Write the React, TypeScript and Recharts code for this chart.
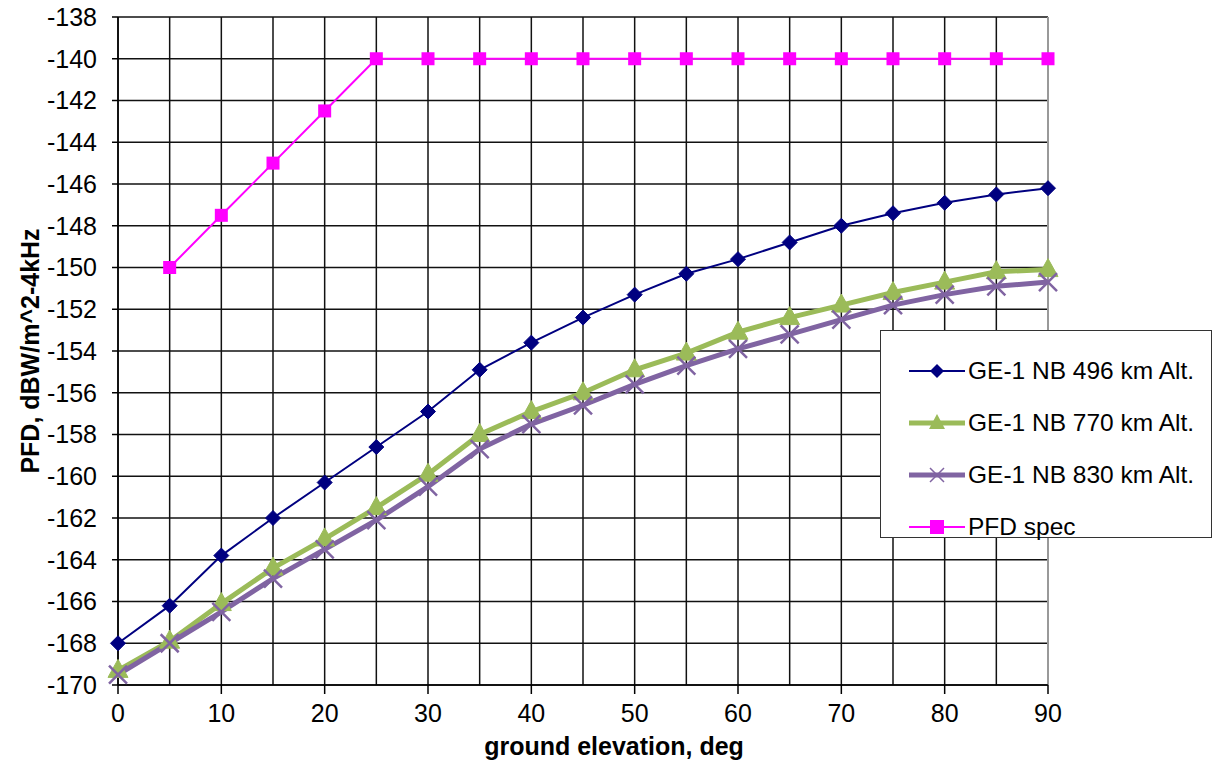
import React from 'react';
import { LineChart, Line, XAxis, YAxis, CartesianGrid, ReferenceLine, Label } from 'recharts';

const elevation = [0, 5, 10, 15, 20, 25, 30, 35, 40, 45, 50, 55, 60, 65, 70, 75, 80, 85, 90];

const nb496 = [-168.0, -166.2, -163.8, -162.0, -160.3, -158.6, -156.9, -154.9, -153.6, -152.4, -151.3, -150.3, -149.6, -148.8, -148.0, -147.4, -146.9, -146.5, -146.2];
const nb770 = [-169.3, -167.9, -166.1, -164.4, -163.0, -161.5, -159.9, -158.0, -156.9, -156.0, -154.9, -154.1, -153.1, -152.4, -151.8, -151.2, -150.7, -150.2, -150.1];
const nb830 = [-169.5, -168.0, -166.5, -164.9, -163.5, -162.1, -160.5, -158.7, -157.5, -156.6, -155.6, -154.7, -153.9, -153.2, -152.5, -151.8, -151.3, -150.9, -150.7];
const pfdSpec = [null, -150, -147.5, -145, -142.5, -140, -140, -140, -140, -140, -140, -140, -140, -140, -140, -140, -140, -140, -140];

const xTicks = [0, 10, 20, 30, 40, 50, 60, 70, 80, 90];
const xMinorGrid = [5, 15, 25, 35, 45, 55, 65, 75, 85];
const yTicks = [-170, -168, -166, -164, -162, -160, -158, -156, -154, -152, -150, -148, -146, -144, -142, -140, -138];

const seriesNames = ['GE-1 NB 496 km Alt.', 'GE-1 NB 770 km Alt.', 'GE-1 NB 830 km Alt.', 'PFD spec'];

const data = elevation.map((e, i) => ({
  elev: e,
  nb496: nb496[i],
  nb770: nb770[i],
  nb830: nb830[i],
  pfd: pfdSpec[i],
}));

const BLUE = '#000080';
const GREEN = '#9BBB59';
const PURPLE = '#8064A2';
const MAGENTA = '#FF00FF';
const FONT = '"Liberation Sans", Arial, sans-serif';
const GRID = '#111';

const Diamond = (props: any) => {
  const { cx, cy } = props;
  if (cx == null || cy == null) return null;
  const r = 7.5;
  return <path d={`M${cx},${cy - r}L${cx + r},${cy}L${cx},${cy + r}L${cx - r},${cy}Z`} fill={BLUE} stroke={BLUE} />;
};

const Triangle = (props: any) => {
  const { cx, cy } = props;
  if (cx == null || cy == null) return null;
  return <path d={`M${cx},${cy - 11}L${cx + 10},${cy + 7}L${cx - 10},${cy + 7}Z`} fill={GREEN} stroke={GREEN} />;
};

const Cross = (props: any) => {
  const { cx, cy } = props;
  if (cx == null || cy == null) return null;
  const r = 9;
  return (
    <path
      d={`M${cx - r},${cy - r}L${cx + r},${cy + r}M${cx - r},${cy + r}L${cx + r},${cy - r}`}
      stroke={PURPLE}
      strokeWidth={2.5}
      fill="none"
    />
  );
};

const Square = (props: any) => {
  const { cx, cy } = props;
  if (cx == null || cy == null) return null;
  const r = 6.5;
  return <rect x={cx - r} y={cy - r} width={2 * r} height={2 * r} fill={MAGENTA} />;
};

const legendIcons = [
  (
    <svg width={56} height={20} key="a">
      <line x1={0} y1={10} x2={56} y2={10} stroke={BLUE} strokeWidth={2} />
      <path d="M28,3L35,10L28,17L21,10Z" fill={BLUE} />
    </svg>
  ),
  (
    <svg width={56} height={20} key="b">
      <line x1={0} y1={10} x2={56} y2={10} stroke={GREEN} strokeWidth={5} strokeLinecap="round" />
      <path d="M28,1L36,16L20,16Z" fill={GREEN} />
    </svg>
  ),
  (
    <svg width={56} height={20} key="c">
      <line x1={0} y1={10} x2={56} y2={10} stroke={PURPLE} strokeWidth={5} strokeLinecap="round" />
      <path d="M21,3L35,17M21,17L35,3" stroke={PURPLE} strokeWidth={1.5} />
    </svg>
  ),
  (
    <svg width={56} height={20} key="d">
      <line x1={0} y1={10} x2={56} y2={10} stroke={MAGENTA} strokeWidth={2} />
      <rect x={21} y={3} width={14} height={14} fill={MAGENTA} />
    </svg>
  ),
];

// legend drawn as a plain box over the plot, so it doesn't eat chart space
const LegendBox = () => (
  <div
    style={{
      position: 'absolute',
      left: 880,
      top: 330,
      border: '1.5px solid #333',
      background: '#fff',
      width: 332,
      height: 208,
      boxSizing: 'border-box',
      paddingTop: 14,
      paddingLeft: 28,
      fontFamily: FONT,
      fontSize: 24.5,
      color: '#000',
    }}
  >
    {seriesNames.map((name, i) => (
      <div key={name} style={{ display: 'flex', alignItems: 'center', height: 52, whiteSpace: 'nowrap' }}>
        {legendIcons[i]}
        <span style={{ marginLeft: 3 }}>{name}</span>
      </div>
    ))}
  </div>
);

export default function App() {
  return (
    <div style={{ position: 'absolute', left: 0, top: 0, width: 1214, height: 766, background: '#fff' }}>
      <LineChart width={1214} height={766} data={data} margin={{ top: 17, right: 166, bottom: 0, left: 0 }}>
        <CartesianGrid stroke={GRID} strokeWidth={1.5} />
        {xMinorGrid.map((x) => (
          <ReferenceLine key={x} x={x} stroke={GRID} strokeWidth={1.5} />
        ))}
        <XAxis
          dataKey="elev"
          type="number"
          domain={[0, 90]}
          ticks={xTicks}
          height={81}
          tickSize={9}
          tickMargin={10}
          stroke="#000"
          strokeWidth={1.5}
          tick={{ fill: '#000', fontSize: 25, fontFamily: FONT }}
        >
          <Label
            value="ground elevation, deg"
            position="insideBottom"
            offset={11}
            dx={31}
            style={{ fontSize: 25, fontWeight: 'bold', fontFamily: FONT, fill: '#000' }}
          />
        </XAxis>
        <YAxis
          type="number"
          domain={[-170, -138]}
          ticks={yTicks}
          interval={0}
          width={118}
          tickSize={6}
          tickMargin={15}
          stroke="#000"
          strokeWidth={1.5}
          tick={{ fill: '#000', fontSize: 25, fontFamily: FONT }}
        >
          <Label
            value="PFD, dBW/m^2-4kHz"
            angle={-90}
            position="insideLeft"
            offset={30}
            style={{ textAnchor: 'middle', fontSize: 25, fontWeight: 'bold', fontFamily: FONT, fill: '#000' }}
          />
        </YAxis>
        <ReferenceLine x={90} stroke="#999" strokeWidth={2} />
        <Line
          dataKey="nb496"
          name={seriesNames[0]}
          stroke={BLUE}
          strokeWidth={2}
          dot={<Diamond />}
          activeDot={false}
          isAnimationActive={false}
        />
        <Line
          dataKey="nb770"
          name={seriesNames[1]}
          stroke={GREEN}
          strokeWidth={5}
          dot={<Triangle />}
          activeDot={false}
          isAnimationActive={false}
        />
        <Line
          dataKey="nb830"
          name={seriesNames[2]}
          stroke={PURPLE}
          strokeWidth={5}
          dot={<Cross />}
          activeDot={false}
          isAnimationActive={false}
        />
        <Line
          dataKey="pfd"
          name={seriesNames[3]}
          stroke={MAGENTA}
          strokeWidth={2}
          dot={<Square />}
          activeDot={false}
          connectNulls={false}
          isAnimationActive={false}
        />
      </LineChart>
      <LegendBox />
    </div>
  );
}
